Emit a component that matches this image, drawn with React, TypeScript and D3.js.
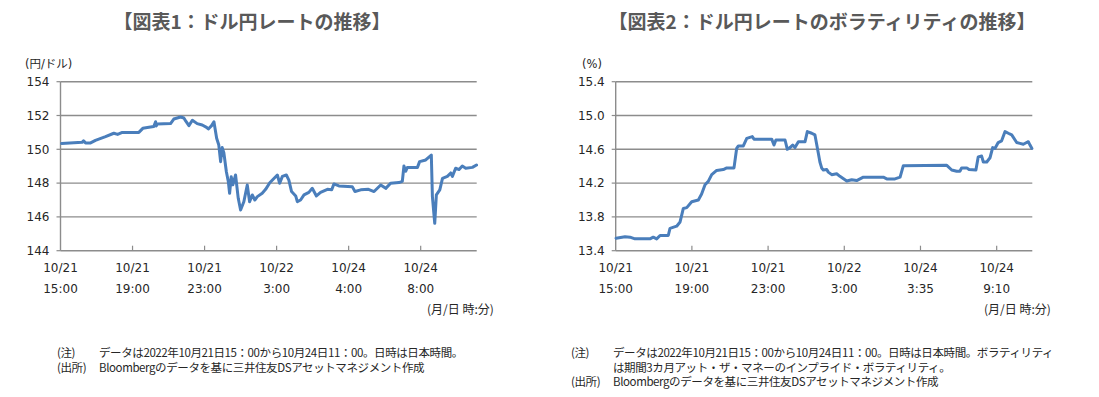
import React from "react";
import * as d3 from "d3";

// ---- Chart 1: USD/JPY (x = trading hours since 10/21 15:00, tick every 4 h)
const fxHours = [0.06,1.2,1.28,1.39,1.67,1.94,2.5,2.96,3.17,3.43,4.35,4.57,4.91,5.18,5.28,5.32,5.37,6.11,6.29,6.67,6.85,6.94,7.13,7.32,7.59,7.87,8.11,8.21,8.39,8.52,8.67,8.79,8.89,8.98,9.07,9.21,9.32,9.39,9.48,9.57,9.72,9.87,10.0,10.18,10.37,10.5,10.65,10.79,10.93,11.2,11.39,11.62,12.04,12.17,12.32,12.54,12.68,12.83,13.06,13.15,13.33,13.52,13.79,13.98,14.21,14.44,14.82,15.06,15.18,15.46,16.2,16.35,16.67,17.1,17.41,17.78,18.06,18.33,18.79,18.98,19.07,19.17,19.26,19.82,19.94,20.28,20.59,20.65,20.78,20.87,21.06,21.21,21.48,21.67,21.76,21.94,22.13,22.31,22.5,22.87,23.1];
const fxRate = [150.35,150.41,150.5,150.38,150.38,150.53,150.75,150.95,150.88,151.0,151.0,151.24,151.3,151.35,151.63,151.38,151.5,151.52,151.79,151.91,151.85,151.7,151.4,151.72,151.52,151.44,151.3,151.2,151.4,151.63,150.65,150.25,149.27,150.1,149.8,148.67,148.08,147.4,148.38,147.9,148.48,147.1,146.41,146.9,147.89,146.9,147.3,147.0,147.2,147.4,147.63,148.02,148.48,147.99,148.4,148.48,148.18,147.5,147.24,146.9,147.0,147.3,147.45,147.69,147.24,147.45,147.63,147.6,147.95,147.83,147.79,147.5,147.6,147.63,147.5,147.89,147.69,147.99,148.03,148.1,149.01,148.7,148.93,148.93,149.27,149.37,149.66,147.2,145.62,147.3,147.6,148.28,148.4,148.6,148.4,148.88,148.8,149.01,148.88,148.93,149.07];
const fxXMax = 23.11;
const fxYTicks = [144, 146, 148, 150, 152, 154];
const fxXTicks = [0, 4, 8, 12, 16, 20];
const fxXLabels = [["10/21", "15:00"], ["10/21", "19:00"], ["10/21", "23:00"], ["10/22", "3:00"], ["10/24", "4:00"], ["10/24", "8:00"]];

// ---- Chart 2: implied volatility
const volHours = [0.02,0.49,0.75,1.01,1.8,1.97,2.15,2.33,2.76,2.85,3.2,3.38,3.55,3.73,3.99,4.34,4.51,4.69,4.86,5.04,5.3,5.65,5.83,6.21,6.35,6.44,6.7,6.88,7.17,7.26,8.19,8.31,8.41,8.89,9.01,9.15,9.29,9.41,9.59,9.94,10.06,10.29,10.46,10.64,10.72,10.82,10.9,11.08,11.16,11.34,11.6,11.77,12.13,12.39,12.65,13.0,14.05,14.23,14.66,14.93,15.1,17.38,17.64,17.9,18.07,18.16,18.43,18.55,18.91,19.03,19.21,19.3,19.48,19.65,19.79,19.91,20.08,20.26,20.44,20.61,20.79,21.05,21.22,21.4,21.57,21.66,21.75,21.85];
const volPct = [13.547,13.566,13.56,13.54,13.54,13.56,13.54,13.58,13.58,13.665,13.69,13.74,13.9,13.91,13.98,14.0,14.07,14.18,14.22,14.3,14.35,14.36,14.38,14.38,14.61,14.64,14.64,14.73,14.75,14.72,14.72,14.65,14.71,14.71,14.6,14.62,14.65,14.62,14.69,14.69,14.81,14.79,14.77,14.55,14.45,14.375,14.355,14.36,14.33,14.3,14.31,14.28,14.225,14.24,14.23,14.27,14.27,14.25,14.25,14.27,14.406,14.41,14.355,14.34,14.34,14.38,14.38,14.36,14.355,14.51,14.52,14.45,14.45,14.5,14.62,14.61,14.68,14.7,14.81,14.79,14.77,14.68,14.67,14.66,14.68,14.69,14.65,14.61];
const volXMax = 21.87;
const volYTicks = [13.4, 13.8, 14.2, 14.6, 15.0, 15.4];
const volXTicks = [0, 4, 8, 12, 16, 20];
const volXLabels = [["10/21", "15:00"], ["10/21", "19:00"], ["10/21", "23:00"], ["10/22", "3:00"], ["10/24", "3:35"], ["10/24", "9:10"]];

const notes1 = [
  ["(注)", "データは2022年10月21日15：00から10月24日11：00。日時は日本時間。"],
  ["(出所)", "Bloombergのデータを基に三井住友DSアセットマネジメント作成"],
];
const notes2 = [
  ["(注)", "データは2022年10月21日15：00から10月24日11：00。日時は日本時間。ボラティリティ"],
  ["", "は期間3カ月アット・ザ・マネーのインプライド・ボラティリティ。"],
  ["(出所)", "Bloombergのデータを基に三井住友DSアセットマネジメント作成"],
];

const NUM_FONT = "'DejaVu Sans', 'Noto Sans CJK JP', sans-serif";
const JP_FONT = "'Noto Sans CJK JP', sans-serif";
const GRID = "#8c8c8c";
const LINE = "#4a7ebb";
const TEXT = "#262626";

type PanelProps = {
  left: number; right: number; top: number; bottom: number;
  xMax: number; yMin: number; yMax: number;
  yTicks: number[]; yFmt: (v: number) => string;
  xTicks: number[]; xLabels: string[][];
  xs: number[]; ys: number[];
  unit: string; unitX: number;
  title: string; titleX: number;
  axisNoteX: number;
};

function Panel(p: PanelProps) {
  const x = d3.scaleLinear().domain([0, p.xMax]).range([p.left, p.right]);
  const y = d3.scaleLinear().domain([p.yMin, p.yMax]).range([p.bottom, p.top]);
  const pts: [number, number][] = p.xs.map((h, i) => [h, p.ys[i]]);
  const path = d3.line<[number, number]>().x(d => x(d[0])).y(d => y(d[1]))(pts) || "";
  return (
    <g>
      <text x={p.titleX} y={29} textAnchor="middle" fontFamily={JP_FONT} fontWeight={700} fontSize={19} fill="#595959">{p.title}</text>
      <text x={p.unitX} y={68} fontFamily={NUM_FONT} fontSize={11.5} fill={TEXT}>{p.unit}</text>
      {p.yTicks.map(t => (
        <g key={t}>
          {t !== p.yMin && <line x1={p.left} x2={p.right} y1={y(t)} y2={y(t)} stroke={GRID} strokeWidth={1.4} />}
          <line x1={p.left - 4} x2={p.left} y1={y(t)} y2={y(t)} stroke={GRID} strokeWidth={1.2} />
          <text x={p.left - 11} y={y(t)} dy="0.36em" textAnchor="end" fontFamily={NUM_FONT} fontSize={12} fill={TEXT}>{p.yFmt(t)}</text>
        </g>
      ))}
      <line x1={p.left} x2={p.left} y1={p.top} y2={p.bottom} stroke={GRID} strokeWidth={1.4} />
      <line x1={p.left} x2={p.right} y1={p.bottom} y2={p.bottom} stroke={GRID} strokeWidth={1.4} />
      {p.xTicks.map((t, i) => (
        <g key={t}>
          {i > 0 && <line x1={x(t)} x2={x(t)} y1={p.bottom - 5} y2={p.bottom} stroke={GRID} strokeWidth={1.2} />}
          <text x={x(t)} y={272} textAnchor="middle" fontFamily={NUM_FONT} fontSize={12} fill={TEXT}>{p.xLabels[i][0]}</text>
          <text x={x(t)} y={293} textAnchor="middle" fontFamily={NUM_FONT} fontSize={12} fill={TEXT}>{p.xLabels[i][1]}</text>
        </g>
      ))}
      <text x={p.axisNoteX} y={314} fontFamily={JP_FONT} fontSize={12} fill={TEXT}>(月/日 時:分)</text>
      <path d={path} fill="none" stroke={LINE} strokeWidth={3} strokeLinejoin="round" strokeLinecap="round" />
    </g>
  );
}

function Notes({ rows, x, tx, y }: { rows: string[][]; x: number; tx: number; y: number }) {
  return (
    <g fontFamily={JP_FONT} fontSize={11.5} fill={TEXT} letterSpacing={-0.4}>
      {rows.map((r, i) => (
        <g key={i}>
          {r[0] && <text x={x} y={y + i * 14.5}>{r[0]}</text>}
          <text x={tx} y={y + i * 14.5}>{r[1]}</text>
        </g>
      ))}
    </g>
  );
}

export default function App() {
  return (
    <svg width={1099} height={397} style={{ position: "absolute", left: 0, top: 0, background: "#fff" }}>
      <rect width={1099} height={397} fill="#fff" />
      <Panel left={60.5} right={476.7} top={81.7} bottom={250.7} xMax={fxXMax} yMin={144} yMax={154}
        yTicks={fxYTicks} yFmt={v => String(v)} xTicks={fxXTicks} xLabels={fxXLabels}
        xs={fxHours} ys={fxRate} unit="(円/ドル)" unitX={25} title="【図表1：ドル円レートの推移】" titleX={252} axisNoteX={427} />
      <Panel left={615.7} right={1032.3} top={81.7} bottom={250.7} xMax={volXMax} yMin={13.4} yMax={15.4}
        yTicks={volYTicks} yFmt={v => v.toFixed(1)} xTicks={volXTicks} xLabels={volXLabels}
        xs={volHours} ys={volPct} unit="(%)" unitX={582} title="【図表2：ドル円レートのボラティリティの推移】" titleX={822} axisNoteX={984} />
      <Notes rows={notes1} x={57} tx={99} y={357} />
      <Notes rows={notes2} x={571} tx={613} y={357} />
    </svg>
  );
}
